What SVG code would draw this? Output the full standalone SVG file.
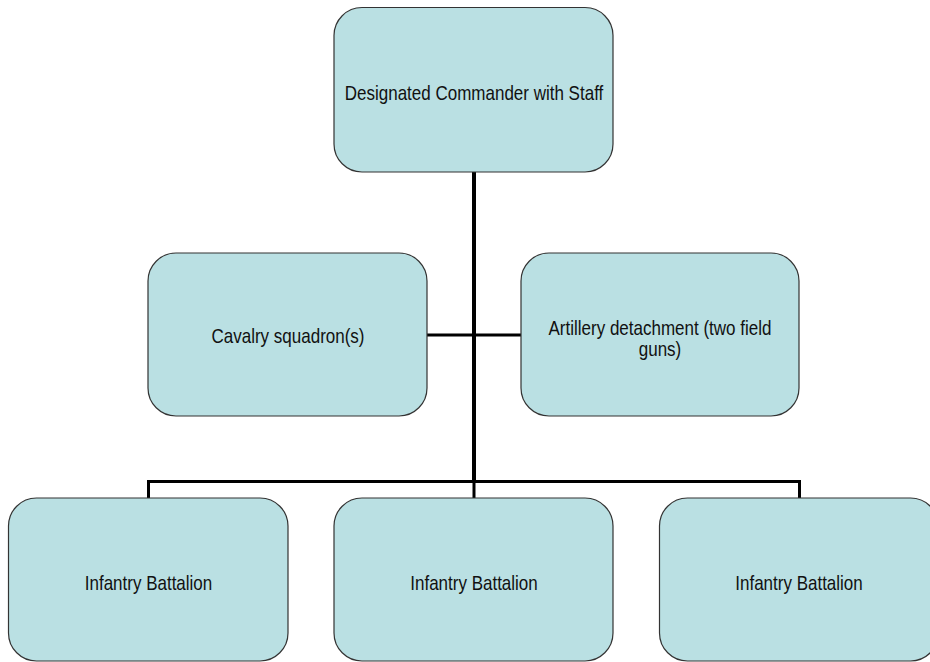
<svg xmlns="http://www.w3.org/2000/svg" width="930" height="662" viewBox="0 0 930 662">
<style>
.box{fill:#BAE0E3;stroke:#333333;stroke-width:1.2}
.lbl{font-family:"Liberation Sans",Arial,sans-serif;font-size:21px;fill:#111111;text-anchor:middle}
.con{stroke:#000000;stroke-width:3;fill:none}
</style>
<rect width="930" height="662" fill="#ffffff"/>
<g id="connectors">
<line class="con" x1="474" y1="172" x2="474" y2="482" style="stroke-width:4"/>
<line class="con" x1="427" y1="335" x2="521" y2="335"/>
<polyline class="con" points="148.5,498 148.5,481.5 799.5,481.5 799.5,498"/>
<line class="con" x1="474" y1="481" x2="474" y2="498"/>
</g>
<g id="commander">
<rect class="box" x="334" y="7.5" width="279" height="164.5" rx="28" ry="28"/>
<text class="lbl" transform="translate(474,100) scale(0.81,1)">Designated Commander with Staff</text>
</g>
<g id="cavalry">
<rect class="box" x="148" y="253" width="279" height="163" rx="28" ry="28"/>
<text class="lbl" transform="translate(288,343) scale(0.81,1)">Cavalry squadron(s)</text>
</g>
<g id="artillery">
<rect class="box" x="521" y="253" width="278" height="163" rx="28" ry="28"/>
<text class="lbl" transform="translate(660,335) scale(0.81,1)">Artillery detachment (two field</text>
<text class="lbl" transform="translate(660,356) scale(0.81,1)">guns)</text>
</g>
<g id="infantry1">
<rect class="box" x="8.5" y="498" width="279.5" height="163" rx="28" ry="28"/>
<text class="lbl" transform="translate(148.5,590) scale(0.81,1)">Infantry Battalion</text>
</g>
<g id="infantry2">
<rect class="box" x="334" y="498" width="279" height="163" rx="28" ry="28"/>
<text class="lbl" transform="translate(474,590) scale(0.81,1)">Infantry Battalion</text>
</g>
<g id="infantry3">
<rect class="box" x="659.5" y="498" width="279" height="163" rx="28" ry="28"/>
<text class="lbl" transform="translate(799,590) scale(0.81,1)">Infantry Battalion</text>
</g>
</svg>
